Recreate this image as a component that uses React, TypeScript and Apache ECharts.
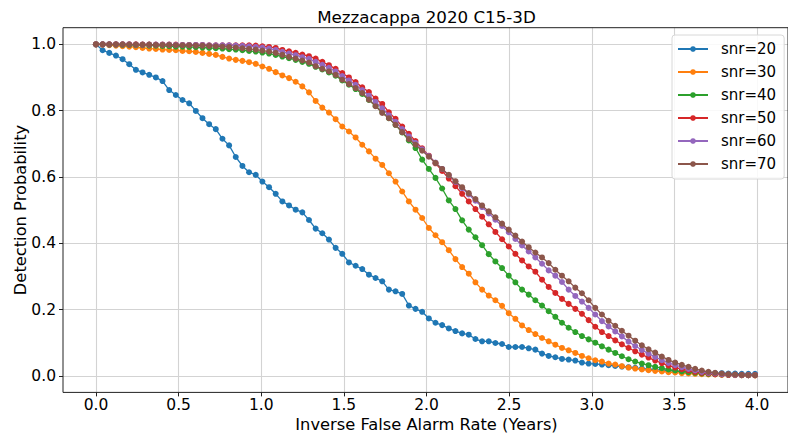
import React, { useEffect, useRef } from "react";
import * as echarts from "echarts";

// Sampling grid: 100 points from 0 to 4 years (linspace)
const X_VALUES: number[] = Array.from({ length: 100 }, (_, i) => +((4 * i) / 99).toFixed(4));

const X_TICKS = [0, 0.5, 1, 1.5, 2, 2.5, 3, 3.5, 4];
const Y_TICKS = [0, 0.2, 0.4, 0.6, 0.8, 1.0];

const SERIES_NAMES = ["snr=20", "snr=30", "snr=40", "snr=50", "snr=60", "snr=70"];

const SNR20 = [
  1.0, 0.982, 0.974, 0.966, 0.955, 0.94, 0.923, 0.915, 0.908, 0.9, 0.889, 0.862, 0.847, 0.832, 0.822, 0.799, 0.777,
  0.759, 0.744, 0.715, 0.695, 0.66, 0.633, 0.614, 0.606, 0.586, 0.569, 0.549, 0.526, 0.514, 0.501, 0.493,
  0.47, 0.444, 0.43, 0.411, 0.386, 0.368, 0.342, 0.332, 0.322, 0.305, 0.295, 0.285, 0.26, 0.255, 0.247, 0.212, 0.202, 0.193,
  0.173, 0.16, 0.153, 0.143, 0.135, 0.128, 0.124, 0.111, 0.104, 0.104, 0.099, 0.096, 0.087, 0.087, 0.087, 0.083,
  0.079, 0.067, 0.06, 0.056, 0.051, 0.049, 0.046, 0.04, 0.037, 0.036, 0.034, 0.032,
  0.03, 0.028, 0.026, 0.024, 0.022, 0.02, 0.019, 0.017, 0.016, 0.014, 0.013, 0.012, 0.011, 0.01, 0.009, 0.008, 0.008,
  0.007, 0.007, 0.006, 0.006, 0.006,
];

const SNR30 = [
  1.0, 0.999, 0.997, 0.996, 0.994, 0.993, 0.991, 0.989, 0.987, 0.986, 0.984, 0.983, 0.982, 0.98, 0.979, 0.977, 0.974,
  0.971, 0.968, 0.962, 0.957, 0.953, 0.95, 0.946, 0.941, 0.933, 0.926, 0.916, 0.906, 0.898, 0.887, 0.873,
  0.855, 0.829, 0.809, 0.794, 0.774, 0.752, 0.737, 0.719, 0.697, 0.677, 0.655, 0.636, 0.611, 0.586, 0.556, 0.526, 0.501, 0.476,
  0.446, 0.424, 0.403, 0.379, 0.352, 0.328, 0.308, 0.282, 0.26, 0.242, 0.228, 0.211, 0.189, 0.172,
  0.152, 0.138, 0.126, 0.114, 0.104, 0.094, 0.084, 0.077, 0.069, 0.06, 0.053, 0.047, 0.043, 0.037, 0.034, 0.029, 0.025, 0.022,
  0.019, 0.017, 0.015, 0.013, 0.011, 0.01, 0.008, 0.007, 0.006, 0.005, 0.004, 0.004, 0.003, 0.003, 0.002, 0.002, 0.002, 0.001,
];

const SNR40 = [
  1.0, 1.0, 0.999, 0.999, 0.998, 0.998, 0.997, 0.997, 0.996, 0.996, 0.995,
  0.994, 0.993, 0.993, 0.992, 0.991, 0.99,
  0.989, 0.988, 0.987, 0.985, 0.984, 0.982, 0.98, 0.978,
  0.975, 0.972, 0.968, 0.963, 0.958, 0.953, 0.947, 0.941,
  0.932, 0.924, 0.915, 0.905, 0.891, 0.878, 0.865, 0.85, 0.832, 0.814, 0.796,
  0.777, 0.757, 0.734, 0.71,
  0.687, 0.652, 0.624, 0.597, 0.565, 0.529, 0.503, 0.469, 0.441, 0.418, 0.394, 0.367, 0.345, 0.325, 0.302, 0.282, 0.26,
  0.245, 0.228, 0.212, 0.195, 0.178, 0.16, 0.145, 0.132, 0.12, 0.11, 0.1, 0.089, 0.079, 0.069, 0.059, 0.05, 0.043, 0.037,
  0.032, 0.027, 0.023, 0.019, 0.016, 0.013, 0.011, 0.009, 0.007, 0.006, 0.005, 0.004, 0.003, 0.003, 0.002, 0.002, 0.002,
];

const SNR50 = [
  1.0, 1.0, 1.0, 1.0, 1.0, 1.0, 1.0, 0.999, 0.999, 0.999, 0.999, 0.999, 0.999, 0.998, 0.998, 0.998, 0.998,
  0.997, 0.997, 0.997, 0.997,
  0.997, 0.997, 0.997, 0.996, 0.994, 0.992, 0.989, 0.983, 0.979, 0.974, 0.969, 0.964,
  0.957, 0.947, 0.937, 0.926, 0.913, 0.9, 0.886, 0.87, 0.856, 0.836, 0.82,
  0.795, 0.775, 0.752, 0.73,
  0.708, 0.686, 0.664, 0.641, 0.618, 0.595, 0.572, 0.549, 0.526, 0.503, 0.48, 0.457, 0.434, 0.412, 0.39, 0.368, 0.348,
  0.33, 0.314, 0.29, 0.268, 0.25, 0.232, 0.217, 0.202, 0.187, 0.168, 0.148, 0.132, 0.12, 0.107, 0.095, 0.084, 0.074, 0.064,
  0.055, 0.046, 0.038, 0.031, 0.025, 0.02, 0.016, 0.012, 0.009, 0.007, 0.005, 0.004, 0.003, 0.003, 0.002, 0.002, 0.002,
];

const SNR60 = [
  1.0, 1.0, 1.0, 1.0, 1.0, 1.0, 0.999, 0.999, 0.999, 0.999, 0.999, 0.999, 0.998, 0.998, 0.998, 0.998, 0.998,
  0.997, 0.997, 0.997, 0.997,
  0.996, 0.995, 0.994, 0.992, 0.99, 0.987, 0.983, 0.977, 0.972, 0.967, 0.961, 0.956,
  0.947, 0.938, 0.929, 0.918, 0.904, 0.891, 0.878, 0.862, 0.845, 0.826, 0.807,
  0.786, 0.766, 0.744, 0.722,
  0.703, 0.683, 0.663, 0.643, 0.624, 0.605, 0.585, 0.566, 0.547, 0.528, 0.509, 0.49, 0.471, 0.452, 0.433, 0.413, 0.393,
  0.375, 0.357, 0.338, 0.318, 0.302, 0.283, 0.26, 0.241, 0.224, 0.205, 0.185, 0.165, 0.149, 0.134, 0.119, 0.103, 0.09, 0.078,
  0.067, 0.057, 0.047, 0.039, 0.032, 0.026, 0.021, 0.016, 0.012, 0.009, 0.007, 0.005, 0.004, 0.003, 0.003, 0.002, 0.002,
];

const SNR70 = [
  1.0, 1.0, 1.0, 1.0, 1.0, 0.999, 0.999, 0.999, 0.999, 0.998, 0.998, 0.998, 0.997, 0.997, 0.997, 0.996, 0.996,
  0.995, 0.994, 0.993, 0.992, 0.99, 0.988, 0.986, 0.984, 0.981, 0.978, 0.974, 0.968, 0.962, 0.957, 0.951, 0.945,
  0.934, 0.926, 0.918, 0.908, 0.893, 0.88, 0.868, 0.853, 0.833, 0.813, 0.793,
  0.777, 0.757, 0.735, 0.714,
  0.697, 0.679, 0.661, 0.642, 0.624, 0.606, 0.587, 0.569, 0.551, 0.533, 0.514, 0.496, 0.478, 0.459, 0.441, 0.423, 0.405,
  0.388, 0.372, 0.357, 0.34, 0.32, 0.302, 0.285, 0.266, 0.249, 0.228, 0.205, 0.185, 0.166, 0.151, 0.136, 0.121, 0.106, 0.092,
  0.08, 0.07, 0.058, 0.048, 0.04, 0.033, 0.027, 0.021, 0.016, 0.012, 0.009, 0.007, 0.005, 0.004, 0.003, 0.002, 0.002,
];

const SERIES_VALUES = [SNR20, SNR30, SNR40, SNR50, SNR60, SNR70];
const COLORS = ["#1f77b4", "#ff7f0e", "#2ca02c", "#d62728", "#9467bd", "#8c564b"];

const FONT = "DejaVu Sans";

export default function App() {
  const ref = useRef<HTMLDivElement>(null);

  useEffect(() => {
    if (!ref.current) return;
    const chart = echarts.init(ref.current, undefined, { renderer: "svg" });

    const hiddenAxis = {
      axisLine: { show: false, onZero: false },
      axisTick: { show: false },
      axisLabel: { show: false },
      splitLine: { show: false },
    };

    const series: any[] = SERIES_NAMES.map((name, k) => ({
      name,
      type: "line",
      xAxisIndex: 0,
      yAxisIndex: 0,
      data: X_VALUES.map((x, i) => [x, SERIES_VALUES[k][i]]),
      symbol: "circle",
      symbolSize: 6,
      showSymbol: true,
      clip: false,
      z: 3 + k,
      lineStyle: { color: COLORS[k], width: 1.3 },
      itemStyle: { color: COLORS[k], borderWidth: 0 },
      emphasis: { disabled: true },
    }));

    const option: any = {
      animation: false,
      textStyle: { fontFamily: FONT },
      grid: [
        { left: 63, top: 27.7, width: 727, height: 364.7, show: true, borderColor: "#222", borderWidth: 1, backgroundColor: "transparent", z: 1 },
        { left: 96, top: 27.7, width: 661, height: 364.7 },
        { left: 63, top: 44.3, width: 727, height: 331.5 },
      ],
      xAxis: [
        { gridIndex: 0, type: "value", min: -0.2, max: 4.2, ...hiddenAxis },
        {
          gridIndex: 1,
          type: "value",
          min: X_TICKS[0],
          max: X_TICKS[X_TICKS.length - 1],
          interval: 0.5,
          axisLine: { show: false, onZero: false },
          axisTick: { show: true, length: 4, lineStyle: { color: "#222", width: 1 } },
          axisLabel: {
            show: true,
            margin: 5,
            fontSize: 15.5,
            lineHeight: 16,
            color: "#000",
            fontFamily: FONT,
            formatter: (v: number) => v.toFixed(1),
          },
          splitLine: { show: true, lineStyle: { color: "#d3d3d3", width: 1.1 } },
        },
        { gridIndex: 2, type: "value", min: 0, max: 1, show: false, ...hiddenAxis },
      ],
      yAxis: [
        { gridIndex: 0, type: "value", min: -0.05, max: 1.05, ...hiddenAxis },
        { gridIndex: 1, type: "value", min: 0, max: 1, show: false, ...hiddenAxis },
        {
          gridIndex: 2,
          type: "value",
          min: Y_TICKS[0],
          max: Y_TICKS[Y_TICKS.length - 1],
          interval: 0.2,
          axisLine: { show: false, onZero: false },
          axisTick: { show: true, length: 4, lineStyle: { color: "#222", width: 1 } },
          axisLabel: {
            show: true,
            margin: 7,
            fontSize: 15.5,
            color: "#000",
            fontFamily: FONT,
            formatter: (v: number) => v.toFixed(1),
          },
          splitLine: { show: true, lineStyle: { color: "#d3d3d3", width: 1.1 } },
        },
      ],
      legend: {
        orient: "vertical",
        left: 672,
        top: 35,
        itemWidth: 30,
        itemHeight: 7,
        itemGap: 7,
        padding: [6, 8, 7, 5],
        backgroundColor: "rgba(255,255,255,0.85)",
        borderColor: "#d8d8d8",
        borderWidth: 1,
        borderRadius: 3,
        textStyle: { fontSize: 15, fontFamily: FONT, color: "#000", lineHeight: 16, padding: [0, 0, 0, 8] },
        data: SERIES_NAMES,
      },
      graphic: [
        {
          type: "text",
          x: 426.5,
          y: 17,
          style: { text: "Mezzacappa 2020 C15-3D", font: `16.7px '${FONT}'`, fill: "#000", align: "center", verticalAlign: "middle" },
        },
        {
          type: "text",
          x: 426.5,
          y: 424,
          style: { text: "Inverse False Alarm Rate (Years)", font: `16.3px '${FONT}'`, fill: "#000", align: "center", verticalAlign: "middle" },
        },
        {
          type: "text",
          x: 20,
          y: 210,
          rotation: Math.PI / 2,
          style: { text: "Detection Probability", font: `16.3px '${FONT}'`, fill: "#000", align: "center", verticalAlign: "middle" },
        },
      ],
      series,
    };

    chart.setOption(option);
    return () => chart.dispose();
  }, []);

  return (
    <div
      ref={ref}
      style={{ position: "absolute", left: 0, top: 0, width: 788, height: 436, background: "#fff" }}
    />
  );
}
